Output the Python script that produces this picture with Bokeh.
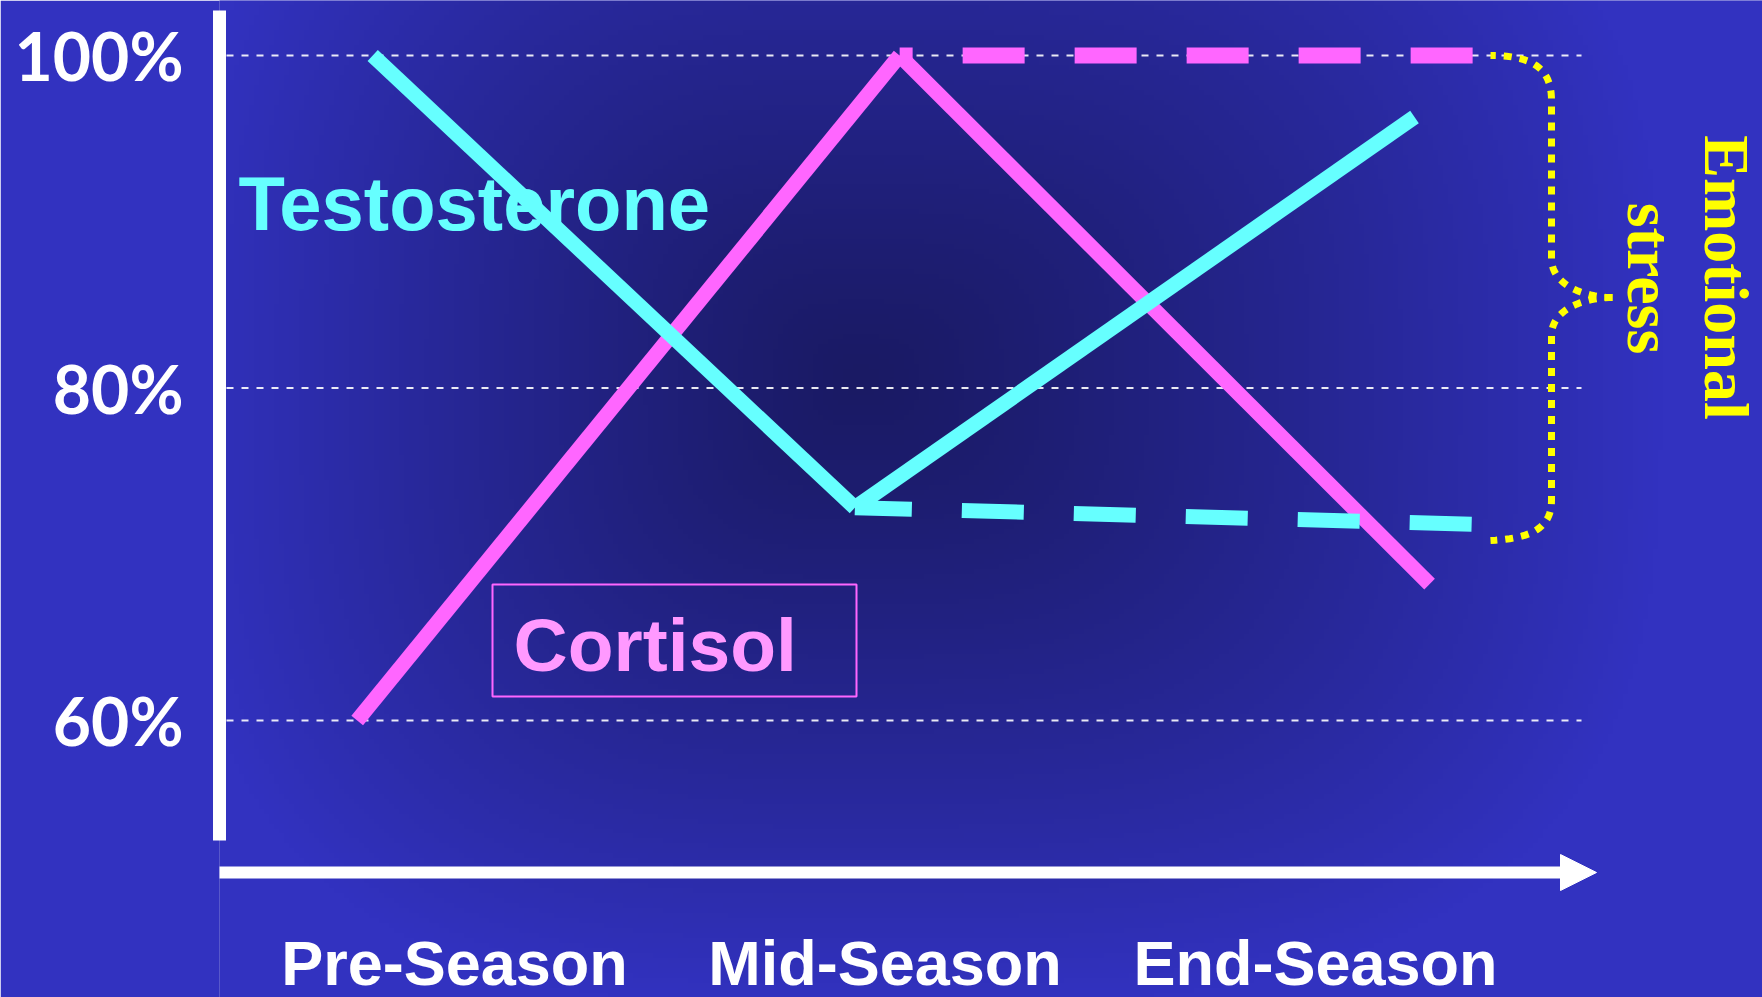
import numpy as np
from bokeh.plotting import figure
from bokeh.models import Range1d, Label, Arrow, NormalHead, FixedTicker, BoxAnnotation
from bokeh.core.properties import value
from bokeh.embed import file_html
from bokeh.resources import INLINE

# ---------------- data ----------------
seasons = ["Pre-Season", "Mid-Season", "End-Season"]
season_pos = [0, 1, 2]
pct_ticks = [60, 80, 100]
pct_labels = ["60%", "80%", "100%"]

testo_x = [-0.19, 0.93, 2.23]
testo_y = [100.0, 72.8, 96.3]
cort_x = [-0.226, 1.034, 2.265]
cort_y = [60.0, 100.0, 68.2]
# dashed continuation ("emotional stress")
testo_stress_x = [0.93, 2.369]
testo_stress_y = [72.8, 71.8]
cort_stress_x = [1.034, 2.369]
cort_stress_y = [100.0, 100.0]

# ---------------- layout ----------------
W, H = 1762, 997
FL = 219                   # frame left in px
KX = (1315 - 454) / 2      # px per season
KY = (720 - 55) / 40       # px per percent


def dx(px):
    return (np.asarray(px, dtype=float) - 454) / KX


def dy(py):
    return 100 - (np.asarray(py, dtype=float) - 55) / KY


CYAN = "#66ffff"
MAGENTA = "#ff66ff"
PINK_TEXT = "#ff99ff"
YELLOW = "#ffff00"
EDGE = np.array([50, 50, 192], dtype=float)
CENTER = np.array([26, 26, 100], dtype=float)

p = figure(width=W, height=H,
           x_range=Range1d(float(dx(FL)), float(dx(W))),
           y_range=Range1d(float(dy(H)), float(dy(0))),
           x_axis_location=None,
           output_backend="svg", toolbar_location=None,
           min_border_left=FL, min_border_right=0, min_border_top=0,
           min_border_bottom=0,
           border_fill_color="#3232c0", background_fill_color="#3232c0",
           outline_line_color=None)
p.xgrid.visible = False
p.ygrid.visible = False

# background gradient (dark centre, bright edges)
nx, ny = 309, 200
sx = FL + (np.arange(nx) + 0.5) * (W - FL) / nx
sy = H - (np.arange(ny) + 0.5) * H / ny
X, Y = np.meshgrid(sx, sy)
ax = np.where(X < 860, 680, 800)
d = ((np.abs(X - 860) / ax) ** 3 + (np.abs(Y - 380) / 625) ** 3) ** (1 / 3)
t = (np.clip(d, 0, 1) ** 1.2)[..., None]
rgb = CENTER + (EDGE - CENTER) * t
img = np.empty((ny, nx), dtype=np.uint32)
view = img.view(dtype=np.uint8).reshape((ny, nx, 4))
view[..., :3] = rgb.astype(np.uint8)
view[..., 3] = 255
p.image_rgba(image=[img], x=float(dx(FL)), y=float(dy(H)),
             dw=float(dx(W) - dx(FL)), dh=float(dy(0) - dy(H)))

# dashed grid lines
n = len(pct_ticks)
p.segment(x0=[float(dx(226))] * n, y0=pct_ticks, x1=[float(dx(1581))] * n, y1=pct_ticks,
          line_color="white", line_alpha=0.9, line_width=2, line_dash="7 8")

# solid series
p.segment(x0=cort_x[:-1], y0=cort_y[:-1], x1=cort_x[1:], y1=cort_y[1:],
          line_color=MAGENTA, line_width=15)
p.segment(x0=testo_x[:-1], y0=testo_y[:-1], x1=testo_x[1:], y1=testo_y[1:],
          line_color=CYAN, line_width=15)

# dashed series
p.line(cort_stress_x, cort_stress_y, line_color=MAGENTA, line_width=16,
       line_dash="62 50", line_dash_offset=49)
p.line(testo_stress_x, testo_stress_y, line_color=CYAN, line_width=15,
       line_dash="62 50", line_dash_offset=5)


# brace (dotted), drawn from its tip outwards
def bez(p0, p1, p2, p3, m=24):
    s = np.linspace(0, 1, m)[:, None]
    a, b, c, e = (np.array(v, dtype=float) for v in (p0, p1, p2, p3))
    return ((1 - s) ** 3) * a + 3 * ((1 - s) ** 2) * s * b + 3 * (1 - s) * (s ** 2) * c + (s ** 3) * e


upper = np.vstack([
    bez((1612, 297), (1585, 297), (1551, 285), (1551, 258)),
    bez((1551, 258), (1551, 210), (1551, 150), (1551, 100)),
    bez((1551, 100), (1551, 70), (1535, 55), (1490, 55)),
])
lower = np.vstack([
    bez((1612, 297), (1585, 297), (1551, 308), (1551, 335)),
    bez((1551, 335), (1551, 390), (1551, 450), (1551, 500)),
    bez((1551, 500), (1551, 528), (1530, 538), (1490, 540)),
])
for seg in (upper, lower):
    p.line(dx(seg[:, 0]), dy(seg[:, 1]), line_color=YELLOW, line_width=7, line_dash="8 8")

# x arrow
p.add_layout(Arrow(end=NormalHead(size=36, fill_color="white", line_color="white"),
                   x_start=float(dx(207)), y_start=float(dy(872)),
                   x_end=float(dx(1596)), y_end=float(dy(872)),
                   line_color="white", line_width=12))

# Cortisol box
p.add_layout(BoxAnnotation(left=float(dx(492)), right=float(dx(856)),
                           top=float(dy(584)), bottom=float(dy(696)),
                           fill_alpha=0, line_color=MAGENTA, line_alpha=1.0, line_width=2))

p.add_layout(Label(x=float(dx(238)), y=float(dy(203)), text="Testosterone",
                   text_font="Liberation Sans", text_font_style="bold",
                   text_font_size="76px", text_color=CYAN,
                   text_align="left", text_baseline="alphabetic"))
p.add_layout(Label(x=float(dx(513)), y=float(dy(644)), text="Cortisol",
                   text_font="Liberation Sans", text_font_style="bold",
                   text_font_size="75px", text_color=PINK_TEXT,
                   text_align="left", text_baseline="alphabetic"))
p.add_layout(Label(x=float(dx(1726)), y=float(dy(277)), text="Emotional",
                   angle=-np.pi / 2,
                   text_font="Liberation Serif", text_font_style="bold",
                   text_font_size="64px", text_color=YELLOW,
                   text_align="center", text_baseline="alphabetic"))
p.add_layout(Label(x=float(dx(1649)), y=float(dy(278)), text="stress",
                   angle=-np.pi / 2,
                   text_font="Liberation Serif", text_font_style="bold",
                   text_font_size="64px", text_color=YELLOW,
                   text_align="center", text_baseline="alphabetic"))

# season labels under the arrow
p.text(x=season_pos, y=[float(dy(962))] * len(season_pos), text=seasons,
       text_font=value("Liberation Sans"), text_font_style="bold",
       text_font_size=value("63px"), text_color="white",
       text_align="center", text_baseline="alphabetic")

# y axis
ya = p.yaxis[0]
ya.ticker = FixedTicker(ticks=pct_ticks)
ya.major_label_overrides = dict(zip(pct_ticks, pct_labels))
ya.bounds = (float(dy(840)), float(dy(10)))
ya.axis_line_color = "white"
ya.axis_line_width = 13
ya.major_tick_line_color = None
ya.minor_tick_line_color = None
ya.major_label_standoff = 30
ya.major_label_text_font = "Lato"
ya.major_label_text_font_style = "bold"
ya.major_label_text_font_size = "66px"
ya.major_label_text_color = "white"

open("out.html", "w").write(file_html(p, INLINE))
